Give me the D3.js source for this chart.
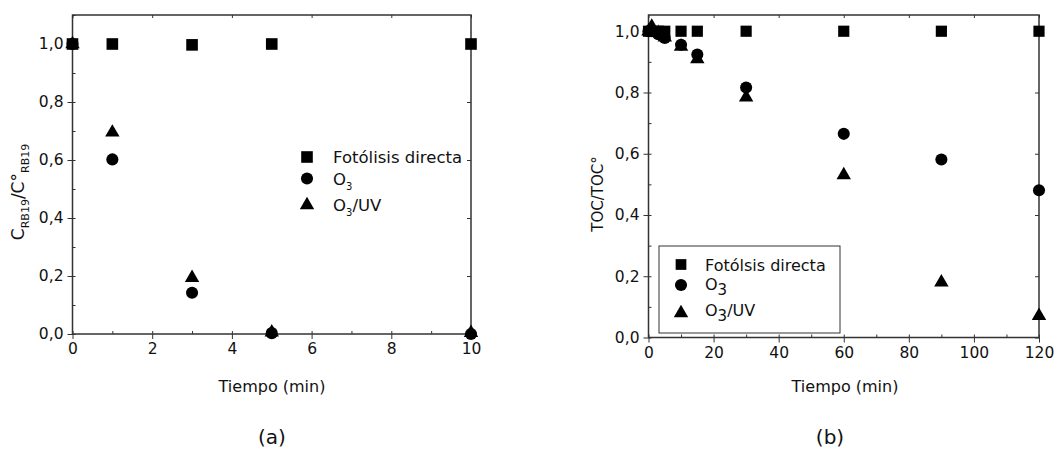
<!DOCTYPE html>
<html>
<head>
<meta charset="utf-8">
<script src="https://cdn.jsdelivr.net/npm/d3@7.9.0/dist/d3.min.js"></script>
<style>
  body { margin: 0; background: #fff; }
  svg { display: block; }
  .axis path, .axis line { stroke: #333; }
</style>
</head>
<body>
<svg id="chart" width="1064" height="453"></svg>
<script>
// panel (a): RB19 concentration
const timeA = [0, 1, 3, 5, 10];
const fotolisisA = [1.0, 1.0, 0.997, 1.0, 1.0];
const o3A = [1.0, 0.602, 0.142, 0.003, 0.0];
const o3uvA = [1.0, 0.695, 0.194, 0.006, 0.004];

// panel (b): TOC
const timeB = [0, 1, 3, 5, 10, 15, 30, 60, 90, 120];
const fotolisisB = [1.0, 1.0, 1.0, 1.0, 1.0, 1.0, 1.0, 1.0, 1.0, 1.0];
const o3B = [1.0, 1.0, 0.99, 0.978, 0.956, 0.924, 0.816, 0.665, 0.581, 0.481];
const o3uvB = [1.0, 1.015, 0.995, 0.98, 0.95, 0.909, 0.784, 0.53, 0.18, 0.071];

const ticksA = { x: [0, 2, 4, 6, 8, 10], y: [0, 0.2, 0.4, 0.6, 0.8, 1.0] };
const ticksB = { x: [0, 20, 40, 60, 80, 100, 120], y: [0, 0.2, 0.4, 0.6, 0.8, 1.0] };

const FONT = "DejaVu Sans, Verdana, sans-serif";
const INK = "#111";
const svg = d3.select("#chart").attr("font-family", FONT);
const fmt = (d) => d3.format(".1f")(d).replace(".", ",");

function zip(t, v) {
  return t.map((x, i) => ({ x, y: v[i] }));
}

function styleAxis(a) {
  a.attr("font-family", FONT).attr("font-size", 15.5);
  a.select(".domain").remove();
  a.selectAll("text").attr("fill", INK);
}

function drawPanel(cfg) {
  const { left, right, top, bottom } = cfg.box;
  const x = d3.scaleLinear().domain(cfg.xDomain).range([left, right]);
  const y = d3.scaleLinear().domain(cfg.yDomain).range([bottom, top]);
  const g = svg.append("g");

  const xMinor = d3.range(cfg.xDomain[0], cfg.xDomain[1] + 1e-9, cfg.xMinorStep);
  const yMinor = d3.range(0, cfg.yDomain[1] + 1e-9, 0.1);

  // minor ticks, inward
  g.append("g").attr("class", "axis")
    .attr("transform", `translate(0,${bottom})`)
    .call(d3.axisBottom(x).tickValues(xMinor).tickSize(-3).tickFormat(""))
    .call(styleAxis);
  g.append("g").attr("class", "axis")
    .attr("transform", `translate(${left},0)`)
    .call(d3.axisLeft(y).tickValues(yMinor).tickSize(-3).tickFormat(""))
    .call(styleAxis);
  // mirrored top / right
  g.append("g").attr("class", "axis")
    .attr("transform", `translate(0,${top})`)
    .call(d3.axisTop(x).tickValues(cfg.xTicks).tickSize(-3).tickFormat(""))
    .call(styleAxis);
  g.append("g").attr("class", "axis")
    .attr("transform", `translate(${right},0)`)
    .call(d3.axisRight(y).tickValues(cfg.yTicks).tickSize(-4).tickFormat(""))
    .call(styleAxis);

  // major ticks, outward with labels
  g.append("g").attr("class", "axis")
    .attr("transform", `translate(0,${bottom})`)
    .call(d3.axisBottom(x).tickValues(cfg.xTicks).tickSize(5).tickPadding(4).tickFormat(d3.format("d")))
    .call(styleAxis);
  g.append("g").attr("class", "axis")
    .attr("transform", `translate(${left},0)`)
    .call(d3.axisLeft(y).tickValues(cfg.yTicks).tickSize(5).tickPadding(4).tickFormat(fmt))
    .call(styleAxis);

  g.append("rect")
    .attr("x", left).attr("y", top)
    .attr("width", right - left).attr("height", bottom - top)
    .attr("fill", "none").attr("stroke", "#333").attr("stroke-width", 1.5);

  const series = [
    { data: zip(cfg.time, cfg.s1), sym: d3.symbolSquare, size: cfg.sq },
    { data: zip(cfg.time, cfg.s2), sym: d3.symbolCircle, size: cfg.ci },
    { data: zip(cfg.time, cfg.s3), sym: d3.symbolTriangle, size: cfg.tr },
  ];
  series.forEach((s) => {
    g.append("g").selectAll("path")
      .data(s.data)
      .join("path")
      .attr("transform", (d) => `translate(${x(d.x)},${y(d.y)})`)
      .attr("d", d3.symbol(s.sym, s.size))
      .attr("fill", "#000");
  });

  // axis titles
  g.append("text")
    .attr("x", cfg.titleX).attr("y", 392)
    .attr("text-anchor", "middle").attr("font-size", 16).attr("fill", INK)
    .text("Tiempo (min)");
  g.append("text")
    .attr("x", cfg.panelX).attr("y", 444)
    .attr("text-anchor", "middle").attr("font-size", 20).attr("fill", INK)
    .text(cfg.panel);
  return { x, y, g, series };
}

drawPanel({
  box: { left: 72.5, right: 471, top: 15, bottom: 334 },
  xDomain: [0, 10], yDomain: [0, 1.1], xMinorStep: 1,
  xTicks: ticksA.x, yTicks: ticksA.y,
  time: timeA, s1: fotolisisA, s2: o3A, s3: o3uvA,
  sq: 135, ci: 115, tr: 90,
  panel: "(a)", panelX: 272, titleX: 272,
});

drawPanel({
  box: { left: 648.5, right: 1039, top: 15, bottom: 337.5 },
  xDomain: [0, 120], yDomain: [0, 1.053], xMinorStep: 10,
  xTicks: ticksB.x, yTicks: ticksB.y,
  time: timeB, s1: fotolisisB, s2: o3B, s3: o3uvB,
  sq: 125, ci: 115, tr: 90,
  panel: "(b)", panelX: 830, titleX: 845,
});

// y axis titles
const ya = svg.append("text")
  .attr("transform", "translate(24,192) rotate(-90)")
  .attr("text-anchor", "middle").attr("font-size", 17).attr("fill", INK);
ya.append("tspan").text("C");
ya.append("tspan").attr("font-size", 11).attr("dy", 5).text("RB19");
ya.append("tspan").attr("dy", -5).text("/C°");
ya.append("tspan").attr("font-size", 11).attr("dy", 5).text("RB19");

svg.append("text")
  .attr("transform", "translate(603,194) rotate(-90)")
  .attr("text-anchor", "middle").attr("font-size", 15).attr("fill", INK)
  .text("TOC/TOC°");

// legend (a), no frame
const legSyms = [d3.symbolSquare, d3.symbolCircle, d3.symbolTriangle];
const legA = svg.append("g");
const legASizes = [135, 115, 90];
const legAy = [157, 178.5, 205];
legSyms.forEach((s, i) => {
  legA.append("path")
    .attr("transform", `translate(307,${legAy[i]})`)
    .attr("d", d3.symbol(s, legASizes[i])).attr("fill", "#000");
});
legA.append("text").attr("x", 333).attr("y", legAy[0] + 6).attr("font-size", 16.5).attr("fill", INK).text("Fotólisis directa");
const la1 = legA.append("text").attr("x", 333).attr("y", legAy[1] + 6).attr("font-size", 16.5).attr("fill", INK);
la1.append("tspan").text("O");
la1.append("tspan").attr("font-size", 10).attr("dy", 5).text("3");
const la2 = legA.append("text").attr("x", 333).attr("y", legAy[2] + 6).attr("font-size", 16.5).attr("fill", INK);
la2.append("tspan").text("O");
la2.append("tspan").attr("font-size", 10).attr("dy", 5).text("3");
la2.append("tspan").attr("dy", -5).text("/UV");

// legend (b), framed
const legB = svg.append("g");
legB.append("rect")
  .attr("x", 659).attr("y", 246).attr("width", 181).attr("height", 87)
  .attr("fill", "#fff").attr("stroke", "#333").attr("stroke-width", 1);
const legBy = [264.5, 285, 313];
const legBSizes = [115, 115, 90];
legSyms.forEach((s, i) => {
  legB.append("path")
    .attr("transform", `translate(681,${legBy[i]})`)
    .attr("d", d3.symbol(s, legBSizes[i])).attr("fill", "#000");
});
legB.append("text").attr("x", 705).attr("y", legBy[0] + 6).attr("font-size", 16).attr("fill", INK).text("Fotólsis directa");
const lb1 = legB.append("text").attr("x", 705).attr("y", legBy[1] + 5).attr("font-size", 16).attr("fill", INK);
lb1.append("tspan").text("O");
lb1.append("tspan").attr("font-size", 15).attr("dy", 5).text("3");
const lb2 = legB.append("text").attr("x", 705).attr("y", legBy[2] + 3).attr("font-size", 16).attr("fill", INK);
lb2.append("tspan").text("O");
lb2.append("tspan").attr("font-size", 15).attr("dy", 5).text("3");
lb2.append("tspan").attr("dy", -5).text("/UV");
</script>
</body>
</html>
